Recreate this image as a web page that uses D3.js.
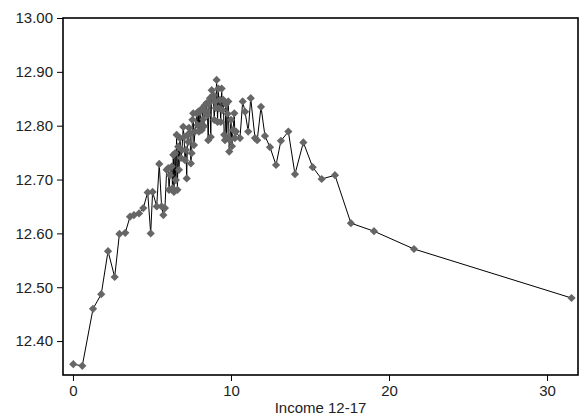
<!DOCTYPE html>
<html>
<head>
<meta charset="utf-8">
<script src="https://cdn.jsdelivr.net/npm/d3@7"></script>
<style>
  html, body { margin: 0; padding: 0; background: #fff; }
  svg { display: block; }
  .tick text { font-family: "Liberation Sans", Arial, sans-serif; font-size: 15px; fill: #222; }
  .tick line { stroke: #000; stroke-width: 1; }
</style>
</head>
<body>
<svg id="chart" width="585" height="417"></svg>
<script>
// Mean value by income (12-17), connected in income order
const income = [0.02,0.59,1.27,1.79,2.22,2.64,2.94,3.31,3.61,3.86,
  4.18,4.45,4.73,4.92,5.04,5.30,5.46,5.61,5.72,5.82,
  5.93,6.03,6.08,6.14,6.25,6.30,6.35,6.39,6.46,6.51,
  6.56,6.61,6.66,6.71,6.77,6.84,6.90,6.98,7.03,7.09,
  7.15,7.20,7.25,7.30,7.34,7.41,7.46,7.51,7.56,7.61,
  7.66,7.72,7.83,7.88,7.93,7.97,8.04,8.10,8.15,8.20,
  8.25,8.29,8.35,8.42,8.46,8.51,8.56,8.61,8.67,8.72,
  8.78,8.83,8.88,8.94,8.99,9.04,9.09,9.15,9.20,9.24,
  9.30,9.35,9.41,9.46,9.51,9.57,9.62,9.68,9.73,9.78,
  9.83,9.89,9.94,10.00,10.06,10.13,10.21,10.25,10.32,10.57,
  10.74,10.89,11.09,11.25,11.52,11.66,11.90,12.15,12.47,12.85,
  13.16,13.63,14.05,14.58,15.17,15.74,16.58,17.59,19.05,21.58,31.55];

const value = [12.357,12.354,12.460,12.487,12.567,12.519,12.599,12.601,12.631,12.634,
  12.637,12.647,12.676,12.600,12.677,12.650,12.729,12.650,12.634,12.647,
  12.718,12.721,12.681,12.708,12.724,12.684,12.746,12.677,12.749,12.699,
  12.783,12.681,12.761,12.718,12.777,12.740,12.755,12.798,12.779,12.736,
  12.755,12.702,12.783,12.770,12.796,12.786,12.730,12.749,12.811,12.823,
  12.764,12.789,12.823,12.801,12.826,12.789,12.826,12.801,12.792,12.833,
  12.812,12.799,12.838,12.825,12.842,12.820,12.773,12.842,12.851,12.779,
  12.866,12.854,12.857,12.811,12.845,12.833,12.885,12.807,12.869,12.832,
  12.848,12.807,12.869,12.829,12.848,12.783,12.773,12.840,12.777,12.822,
  12.845,12.752,12.773,12.811,12.762,12.792,12.823,12.777,12.789,12.777,
  12.845,12.826,12.789,12.851,12.777,12.773,12.835,12.781,12.760,12.727,
  12.772,12.789,12.710,12.769,12.723,12.701,12.708,12.619,12.604,12.571,12.480];

const xTicks = [0, 10, 20, 30];
const yTicks = [12.40, 12.50, 12.60, 12.70, 12.80, 12.90, 13.00];
const xTitle = "Income 12-17";

const points = d3.zip(income, value);

const plot = { left: 63, right: 578, top: 18, bottom: 375 };
const svg = d3.select("#chart");

const x = d3.scaleLinear().domain([-0.63, 31.96]).range([plot.left, plot.right]);
const y = d3.scaleLinear().domain([12.337, 13.00]).range([plot.bottom, plot.top]);

// Axes (ticks outside the frame)
const gx = svg.append("g")
  .attr("transform", `translate(0,${plot.bottom})`)
  .call(d3.axisBottom(x).tickValues(xTicks).tickFormat(d3.format("d")).tickSize(6).tickPadding(4));
gx.select(".domain").remove();

const gy = svg.append("g")
  .attr("transform", `translate(${plot.left},0)`)
  .call(d3.axisLeft(y).tickValues(yTicks).tickFormat(d3.format(".2f")).tickSize(6).tickPadding(4));
gy.select(".domain").remove();

// Axis title
svg.append("text")
  .attr("x", (plot.left + plot.right) / 2)
  .attr("y", 413)
  .attr("text-anchor", "middle")
  .style("font-family", '"Liberation Sans", Arial, sans-serif')
  .style("font-size", "15px")
  .style("fill", "#222")
  .text(xTitle);

// Connecting line
const line = d3.line().x(d => x(d[0])).y(d => y(d[1]));
svg.append("path")
  .datum(points)
  .attr("d", line)
  .attr("fill", "none")
  .attr("stroke", "#000")
  .attr("stroke-width", 1);

// Diamond markers
const diamond = d3.symbol().type(d3.symbolSquare).size(34);
svg.append("g")
  .selectAll("path")
  .data(points)
  .join("path")
  .attr("d", diamond)
  .attr("transform", d => `translate(${x(d[0])},${y(d[1])}) rotate(45)`)
  .attr("fill", "#666");

// Plot frame
svg.append("rect")
  .attr("x", plot.left)
  .attr("y", plot.top)
  .attr("width", plot.right - plot.left)
  .attr("height", plot.bottom - plot.top)
  .attr("fill", "none")
  .attr("stroke", "#000")
  .attr("stroke-width", 1.6);
</script>
</body>
</html>
